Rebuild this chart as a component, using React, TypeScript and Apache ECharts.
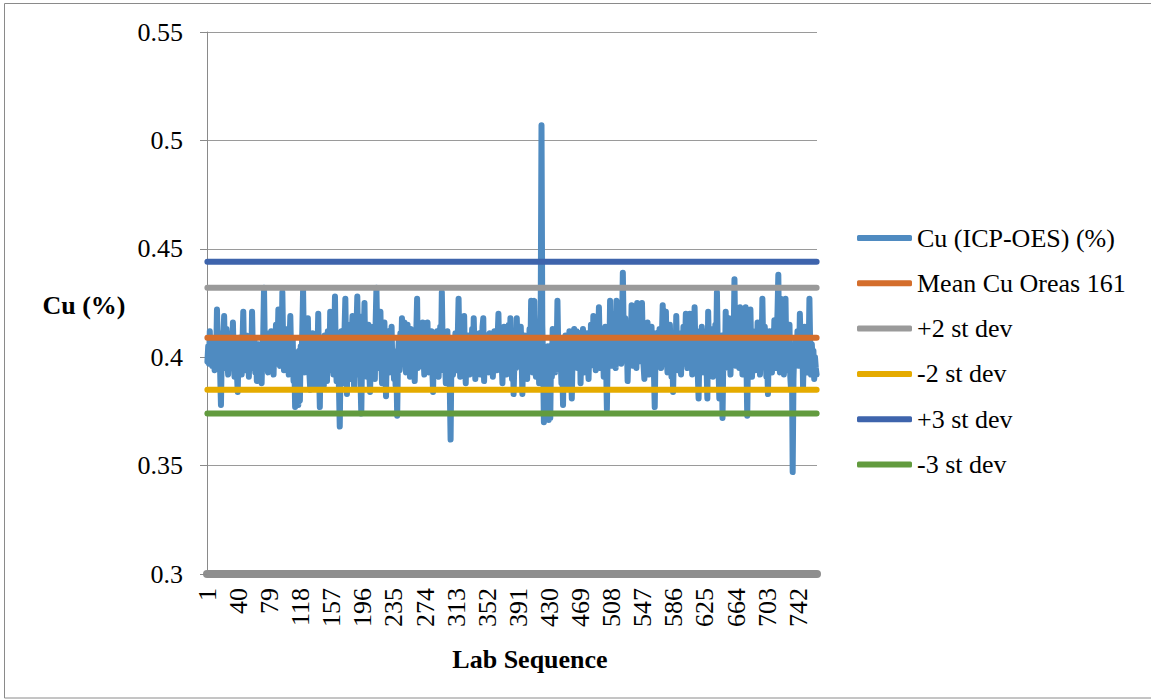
import React, { useEffect, useRef } from "react";
import * as echarts from "echarts";

// Cu (ICP-OES) (%) values, lab sequence 1..765
const cuValues: number[] = [
  0.398, 0.405, 0.397, 0.412, 0.399, 0.404, 0.396, 0.408, 0.401, 0.394, 0.407, 0.400, 0.422, 0.405, 0.398, 0.411, 0.393, 0.378, 0.402, 0.396, 0.409, 0.419, 0.401, 0.395, 0.413, 0.399, 0.392, 0.406, 0.398, 0.411, 0.403, 0.396, 0.416, 0.400, 0.391, 0.405, 0.398, 0.393, 0.384,
  0.401, 0.409, 0.396, 0.404, 0.392, 0.407, 0.421, 0.399, 0.405, 0.394, 0.410, 0.397, 0.403, 0.391, 0.408, 0.400, 0.395, 0.421, 0.402, 0.397, 0.409, 0.393, 0.404, 0.389, 0.398, 0.406, 0.390, 0.401, 0.395, 0.388, 0.403, 0.410, 0.432, 0.405, 0.396, 0.411, 0.399, 0.393, 0.407,
  0.401, 0.395, 0.412, 0.398, 0.404, 0.392, 0.409, 0.400, 0.415, 0.397, 0.405, 0.422, 0.403, 0.396, 0.410, 0.398, 0.430, 0.406, 0.394, 0.412, 0.401, 0.397, 0.413, 0.399, 0.392, 0.407, 0.419, 0.401, 0.395, 0.409, 0.389, 0.398, 0.377, 0.402, 0.385, 0.396, 0.378, 0.403, 0.380,
  0.405, 0.398, 0.412, 0.431, 0.404, 0.393, 0.410, 0.397, 0.406, 0.418, 0.399, 0.392, 0.385, 0.403, 0.396, 0.411, 0.390, 0.405, 0.398, 0.386, 0.409, 0.401, 0.420, 0.395, 0.377, 0.404, 0.391, 0.408, 0.399, 0.387, 0.410, 0.396, 0.403, 0.389, 0.412, 0.400, 0.394, 0.421, 0.403,
  0.396, 0.410, 0.392, 0.405, 0.428, 0.401, 0.389, 0.408, 0.395, 0.386, 0.368, 0.399, 0.412, 0.388, 0.404, 0.395, 0.413, 0.427, 0.400, 0.383, 0.409, 0.397, 0.415, 0.390, 0.403, 0.411, 0.419, 0.398, 0.386, 0.407, 0.394, 0.414, 0.428, 0.405, 0.392, 0.417, 0.389, 0.374, 0.401,
  0.419, 0.407, 0.425, 0.398, 0.412, 0.391, 0.406, 0.415, 0.393, 0.384, 0.402, 0.410, 0.397, 0.414, 0.403, 0.390, 0.416, 0.432, 0.409, 0.395, 0.413, 0.401, 0.421, 0.399, 0.388, 0.411, 0.404, 0.416, 0.396, 0.382, 0.405, 0.398, 0.412, 0.393, 0.407, 0.400, 0.414, 0.395, 0.403,
  0.390, 0.401, 0.387, 0.396, 0.373, 0.399, 0.408, 0.394, 0.411, 0.402, 0.418, 0.405, 0.397, 0.416, 0.400, 0.393, 0.409, 0.415, 0.398, 0.404, 0.391, 0.413, 0.400, 0.395, 0.410, 0.402, 0.389, 0.406, 0.412, 0.427, 0.395, 0.408, 0.399, 0.414, 0.403, 0.396, 0.416, 0.401, 0.392,
  0.409, 0.398, 0.405, 0.416, 0.399, 0.393, 0.407, 0.401, 0.412, 0.395, 0.384, 0.403, 0.396, 0.409, 0.400, 0.412, 0.397, 0.391, 0.405, 0.414, 0.402, 0.430, 0.406, 0.394, 0.410, 0.398, 0.388, 0.404, 0.412, 0.396, 0.401, 0.385, 0.362, 0.399, 0.408, 0.392, 0.405, 0.397, 0.411,
  0.403, 0.394, 0.410, 0.427, 0.404, 0.391, 0.407, 0.398, 0.412, 0.401, 0.419, 0.396, 0.388, 0.405, 0.393, 0.410, 0.399, 0.392, 0.406, 0.401, 0.413, 0.397, 0.418, 0.403, 0.390, 0.409, 0.395, 0.404, 0.398, 0.411, 0.392, 0.406, 0.400, 0.414, 0.418, 0.389, 0.403, 0.396, 0.410,
  0.399, 0.406, 0.393, 0.411, 0.402, 0.397, 0.408, 0.391, 0.404, 0.412, 0.398, 0.405, 0.394, 0.409, 0.420, 0.401, 0.395, 0.410, 0.399, 0.388, 0.406, 0.414, 0.397, 0.403, 0.392, 0.409, 0.400, 0.415, 0.396, 0.418, 0.401, 0.390, 0.407, 0.383, 0.398, 0.412, 0.395, 0.418, 0.402,
  0.396, 0.409, 0.399, 0.414, 0.401, 0.383, 0.403, 0.394, 0.410, 0.397, 0.405, 0.390, 0.408, 0.399, 0.413, 0.402, 0.426, 0.404, 0.393, 0.424, 0.426, 0.400, 0.391, 0.409, 0.396, 0.411, 0.388, 0.402, 0.420, 0.507, 0.415, 0.398, 0.370, 0.394, 0.372, 0.401, 0.378, 0.405, 0.371,
  0.396, 0.372, 0.403, 0.391, 0.413, 0.399, 0.406, 0.393, 0.411, 0.402, 0.426, 0.404, 0.395, 0.409, 0.400, 0.388, 0.398, 0.378, 0.403, 0.394, 0.410, 0.400, 0.386, 0.404, 0.396, 0.412, 0.399, 0.393, 0.381, 0.401, 0.408, 0.413, 0.397, 0.405, 0.412, 0.395, 0.410, 0.401, 0.411,
  0.388, 0.404, 0.397, 0.413, 0.400, 0.393, 0.408, 0.402, 0.411, 0.398, 0.390, 0.405, 0.396, 0.415, 0.403, 0.397, 0.419, 0.401, 0.409, 0.394, 0.412, 0.400, 0.406, 0.423, 0.405, 0.395, 0.413, 0.399, 0.408, 0.391, 0.404, 0.414, 0.397, 0.376, 0.402, 0.410, 0.398, 0.426, 0.407,
  0.396, 0.414, 0.404, 0.420, 0.401, 0.395, 0.426, 0.408, 0.399, 0.417, 0.403, 0.410, 0.397, 0.415, 0.439, 0.412, 0.404, 0.418, 0.400, 0.408, 0.389, 0.403, 0.413, 0.398, 0.407, 0.424, 0.405, 0.396, 0.413, 0.401, 0.409, 0.395, 0.425, 0.406, 0.398, 0.422, 0.402, 0.414, 0.425,
  0.407, 0.396, 0.390, 0.405, 0.412, 0.399, 0.416, 0.403, 0.392, 0.409, 0.401, 0.414, 0.397, 0.406, 0.393, 0.377, 0.402, 0.411, 0.398, 0.408, 0.396, 0.413, 0.404, 0.395, 0.410, 0.424, 0.403, 0.397, 0.412, 0.421, 0.400, 0.393, 0.409, 0.398, 0.415, 0.402, 0.391, 0.406, 0.384,
  0.401, 0.410, 0.396, 0.419, 0.403, 0.394, 0.411, 0.399, 0.406, 0.392, 0.408, 0.401, 0.414, 0.397, 0.405, 0.420, 0.402, 0.395, 0.419, 0.404, 0.420, 0.398, 0.410, 0.392, 0.406, 0.401, 0.423, 0.403, 0.396, 0.412, 0.392, 0.381, 0.402, 0.409, 0.397, 0.414, 0.400, 0.393, 0.407,
  0.399, 0.412, 0.395, 0.381, 0.421, 0.404, 0.396, 0.413, 0.400, 0.408, 0.391, 0.405, 0.398, 0.415, 0.402, 0.430, 0.406, 0.394, 0.381, 0.403, 0.397, 0.410, 0.372, 0.399, 0.408, 0.395, 0.421, 0.403, 0.411, 0.396, 0.418, 0.401, 0.392, 0.407, 0.415, 0.398, 0.410, 0.436, 0.405,
  0.396, 0.422, 0.403, 0.413, 0.395, 0.423, 0.401, 0.409, 0.392, 0.420, 0.404, 0.397, 0.423, 0.398, 0.373, 0.401, 0.410, 0.395, 0.422, 0.403, 0.391, 0.412, 0.399, 0.407, 0.394, 0.410, 0.401, 0.416, 0.398, 0.405, 0.392, 0.411, 0.403, 0.427, 0.406, 0.396, 0.414, 0.400, 0.391,
  0.398, 0.383, 0.404, 0.412, 0.396, 0.408, 0.393, 0.411, 0.400, 0.417, 0.402, 0.395, 0.410, 0.421, 0.438, 0.404, 0.393, 0.427, 0.405, 0.397, 0.414, 0.392, 0.410, 0.427, 0.401, 0.394, 0.409, 0.398, 0.415, 0.391, 0.385, 0.402, 0.347, 0.390, 0.403, 0.396, 0.408, 0.399, 0.412,
  0.404, 0.396, 0.420, 0.405, 0.398, 0.411, 0.386, 0.403, 0.414, 0.399, 0.408, 0.393, 0.410, 0.401, 0.427, 0.404, 0.392, 0.406, 0.398, 0.403, 0.390, 0.400, 0.395, 0.392,
];

// Reference levels
const MEAN_CU = 0.409;
const PLUS_2SD = 0.432;
const MINUS_2SD = 0.385;
const PLUS_3SD = 0.444;
const MINUS_3SD = 0.374;

const seriesNames = [
  "Cu (ICP-OES) (%)",
  "Mean Cu Oreas 161",
  "+2 st dev",
  "-2 st dev",
  "+3 st dev",
  "-3 st dev",
];
const seriesColors = ["#4f8bc1", "#d46e2c", "#9a9a9a", "#e5ab00", "#3e64ac", "#629b3e"];
const levels = [MEAN_CU, PLUS_2SD, MINUS_2SD, PLUS_3SD, MINUS_3SD];

const yTicks = { min: 0.3, max: 0.55, interval: 0.05 };
const labelEvery = 39;

const categories: string[] = cuValues.map((_, i) => String(i + 1));

const FONT = '"Liberation Serif", "Times New Roman", serif';

export default function App() {
  const ref = useRef<HTMLDivElement>(null);
  useEffect(() => {
    if (!ref.current) return;
    const chart = echarts.init(ref.current, null, { renderer: "svg" });
    const last = cuValues.length - 1;
    const series: any[] = [
      {
        name: seriesNames[0],
        type: "line",
        data: cuValues,
        symbol: "none",
        lineStyle: { color: seriesColors[0], width: 6, join: "round", cap: "round" },
        itemStyle: { color: seriesColors[0] },
      },
      ...levels.map((v, k) => ({
        name: seriesNames[k + 1],
        type: "line",
        data: [
          [0, v],
          [last, v],
        ],
        symbol: "none",
        lineStyle: { color: seriesColors[k + 1], width: 6, cap: "round" },
        itemStyle: { color: seriesColors[k + 1] },
      })),
    ];
    chart.setOption({
      animation: false,
      backgroundColor: "#ffffff",
      textStyle: { fontFamily: FONT },
      grid: { left: 207, right: 334, top: 32, height: 542, containLabel: false },
      legend: {
        orient: "vertical",
        left: 857,
        top: 223,
        padding: 0,
        itemWidth: 55,
        itemHeight: 6,
        itemGap: 15.3,
        itemTextGap: 3,
        icon: "roundRect",
        data: seriesNames,
        textStyle: { fontFamily: FONT, fontSize: 26, color: "#000", lineHeight: 30 },
      },
      xAxis: {
        type: "category",
        data: categories,
        boundaryGap: true,
        axisLine: { lineStyle: { color: "#8e8e8e", width: 8 } },
        axisTick: { show: false },
        axisLabel: {
          interval: labelEvery - 1,
          rotate: 90,
          margin: 14,
          fontFamily: FONT,
          fontSize: 26,
          color: "#000",
        },
        splitLine: { show: false },
      },
      yAxis: {
        type: "value",
        min: yTicks.min,
        max: yTicks.max,
        interval: yTicks.interval,
        axisLine: { show: true, lineStyle: { color: "#8a8a8a", width: 1 } },
        axisTick: { show: true, length: 7, lineStyle: { color: "#8a8a8a" } },
        axisLabel: {
          margin: 24,
          fontFamily: FONT,
          fontSize: 26,
          color: "#000",
        },
        splitLine: { show: true, lineStyle: { color: "#9a9a9a", width: 1 } },
      },
      graphic: [
        {
          type: "rect",
          shape: { x: 4.5, y: 3.5, width: 1152, height: 694.5 },
          style: { fill: "none", stroke: "#8a8a8a", lineWidth: 1 },
          silent: true,
          z: -1,
        },
        {
          type: "text",
          x: 84,
          y: 305,
          style: {
            text: "Cu (%)",
            font: `bold 26px ${FONT}`,
            fill: "#000",
            textAlign: "center",
            textVerticalAlign: "middle",
          },
        },
        {
          type: "text",
          x: 530,
          y: 659,
          style: {
            text: "Lab Sequence",
            font: `bold 26px ${FONT}`,
            fill: "#000",
            textAlign: "center",
            textVerticalAlign: "middle",
          },
        },
      ],
      series,
    });
    return () => chart.dispose();
  }, []);
  return (
    <div
      ref={ref}
      style={{ position: "absolute", left: 0, top: 0, width: 1151, height: 700 }}
    />
  );
}
